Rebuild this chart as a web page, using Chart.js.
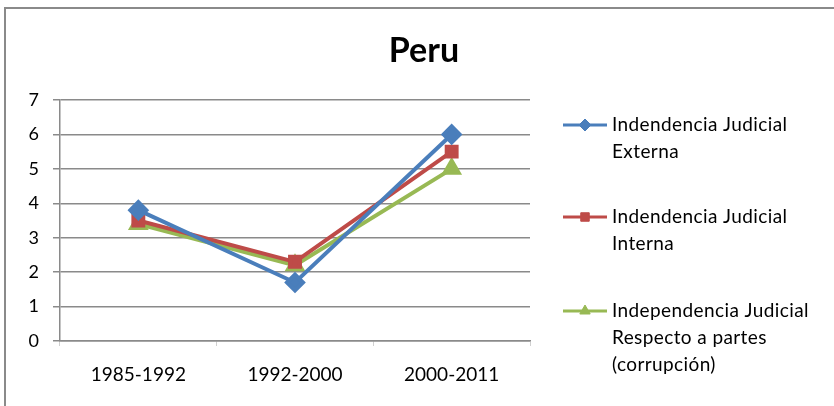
<!DOCTYPE html>
<html>
<head>
<meta charset="utf-8">
<script src="https://cdn.jsdelivr.net/npm/chart.js@4/dist/chart.umd.min.js"></script>
<style>
  html, body { margin: 0; padding: 0; background: #fff; }
  #wrap { position: relative; width: 834px; height: 406px; }
</style>
</head>
<body>
<div id="wrap"><canvas id="c" width="834" height="406"></canvas></div>
<script>
const categories = ['1985-1992', '1992-2000', '2000-2011'];
const externa = [3.8, 1.7, 6.0];
const interna = [3.5, 2.3, 5.5];
const partes = [3.4, 2.2, 5.0];
const seriesLabels = [
  ['Indendencia Judicial', 'Externa'],
  ['Indendencia Judicial', 'Interna'],
  ['Independencia Judicial', 'Respecto a partes', '(corrupción)']
];
const yTicks = [0, 1, 2, 3, 4, 5, 6, 7];
const chartTitle = 'Peru';

const FONT = 'Lato, "Open Sans", sans-serif';
const colors = ['#4A7EBB', '#BE4B48', '#98B954'];
const styles = ['rectRot', 'rect', 'triangle'];
const radii = [8, 7, 8];

const decor = {
  id: 'decor',
  beforeDraw(chart) {
    const ctx = chart.ctx;
    ctx.save();
    ctx.fillStyle = '#fff';
    ctx.fillRect(0, 0, chart.width, chart.height);
    ctx.restore();
  },
  afterDraw(chart) {
    const ctx = chart.ctx;
    ctx.save();
    // outer frame (top and left visible)
    ctx.strokeStyle = '#8a8a8a';
    ctx.lineWidth = 2;
    ctx.beginPath();
    ctx.moveTo(5, 406);
    ctx.lineTo(5, 8);
    ctx.lineTo(834, 8);
    ctx.stroke();
    // title
    ctx.fillStyle = '#000';
    ctx.font = 'bold 34px ' + FONT;
    ctx.textAlign = 'center';
    ctx.textBaseline = 'alphabetic';
    ctx.fillText(chartTitle, 424, 62);
    // legend
    const tops = [125, 217, 311];
    chart.data.datasets.forEach((ds, i) => {
      const y0 = tops[i];
      ctx.strokeStyle = ds.borderColor;
      ctx.lineWidth = 3;
      ctx.beginPath();
      ctx.moveTo(563, y0);
      ctx.lineTo(607, y0);
      ctx.stroke();
      ctx.fillStyle = ds.borderColor;
      ctx.strokeStyle = ds.borderColor;
      ctx.lineWidth = 1;
      Chart.helpers.drawPoint(ctx, {
        pointStyle: ds.pointStyle, radius: 6, rotation: 0, borderWidth: 1
      }, 585, y0);
      ctx.fillStyle = '#000';
      ctx.font = '19px ' + FONT;
      ctx.letterSpacing = '0.4px';
      ctx.textAlign = 'left';
      ctx.textBaseline = 'middle';
      seriesLabels[i].forEach((line, k) => {
        ctx.fillText(line, 612, y0 + k * 27);
      });
      ctx.letterSpacing = '0px';
    });
    ctx.restore();
  }
};

const datasets = [externa, interna, partes].map((vals, i) => ({
  label: seriesLabels[i].join(' '),
  data: vals,
  borderColor: colors[i],
  backgroundColor: colors[i],
  pointBackgroundColor: colors[i],
  pointBorderColor: colors[i],
  borderWidth: 4,
  pointStyle: styles[i],
  pointRadius: radii[i],
  pointHoverRadius: radii[i],
  tension: 0,
  fill: false
}));

new Chart(document.getElementById('c'), {
  type: 'line',
  data: { labels: categories, datasets },
  options: {
    responsive: false,
    animation: false,
    devicePixelRatio: 1,
    layout: { padding: { top: 100, left: 10, right: 304, bottom: 0 } },
    plugins: {
      legend: { display: false },
      title: { display: false },
      tooltip: { enabled: false }
    },
    scales: {
      x: {
        offset: true,
        afterFit(s) { s.height = 65; },
        border: { display: true, color: '#8a8a8a', width: 1.5 },
        grid: { drawOnChartArea: false, drawTicks: true, tickLength: 5, color: '#d0d0d0', offset: true },
        ticks: { color: '#000', font: { family: FONT, size: 19 }, padding: 17, maxRotation: 0 }
      },
      y: {
        min: 0, max: 7,
        afterFit(s) { s.width = 50; },
        afterBuildTicks(s) { s.ticks = yTicks.map(v => ({ value: v })); },
        border: { display: true, color: '#8a8a8a', width: 1.5 },
        grid: { color: '#8a8a8a', lineWidth: 1.5, tickLength: 7, drawTicks: true },
        ticks: { color: '#000', font: { family: FONT, size: 18 }, padding: 14, stepSize: 1 }
      }
    }
  },
  plugins: [decor]
});
</script>
</body>
</html>
